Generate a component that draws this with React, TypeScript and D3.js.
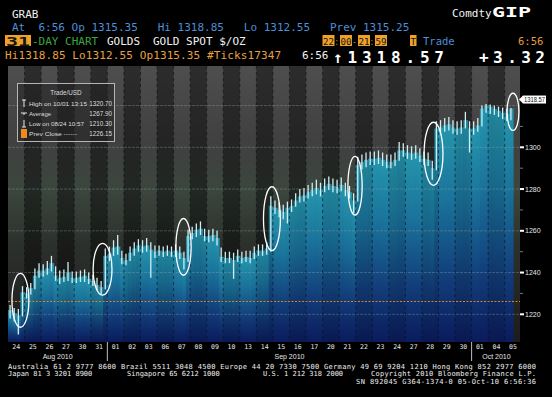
import React from 'react';
import * as d3 from 'd3';

const W = 552;
const H = 397;

// Trading days (31-day chart)
const dayLabels = ['24','25','26','27','30','31','01','02','03','06','07','08','09','10','13','14','15','16','17','20','21','22','23','24','27','28','29','30','01','04','05'];
const monthLabels = [
  { label: 'Aug 2010', from: 0, to: 6 },
  { label: 'Sep 2010', from: 6, to: 28 },
  { label: 'Oct 2010', from: 28, to: 31 },
];
const monthBreaks = [6, 28];
const yTicks = [1220, 1240, 1260, 1280, 1300];
const yGrid = [1220, 1240, 1260, 1280, 1300, 1320];
const yMinor = [1230, 1250, 1270, 1290, 1310];

// Intraday bars per day (4 per day; last day partial)
const closesByDay: number[][] = [
  [1222.0, 1220.5, 1219.5, 1230.5],
  [1230.0, 1232.5, 1238.5, 1241.0],
  [1241.0, 1242.0, 1244.5, 1238.5],
  [1237.5, 1238.0, 1240.0, 1237.5],
  [1237.5, 1238.0, 1238.5, 1237.0],
  [1236.0, 1234.0, 1233.0, 1248.0],
  [1249.0, 1252.0, 1252.5, 1247.0],
  [1246.0, 1249.5, 1251.5, 1253.0],
  [1252.5, 1253.0, 1251.0, 1250.0],
  [1250.5, 1250.0, 1250.5, 1250.0],
  [1250.5, 1249.5, 1247.0, 1257.5],
  [1259.0, 1260.5, 1261.0, 1257.5],
  [1257.5, 1258.0, 1256.5, 1247.5],
  [1247.0, 1247.0, 1246.0, 1248.0],
  [1247.0, 1247.5, 1247.0, 1249.5],
  [1250.5, 1250.5, 1251.5, 1272.0],
  [1271.0, 1270.0, 1269.0, 1271.0],
  [1272.0, 1274.5, 1276.5, 1277.0],
  [1278.5, 1279.5, 1280.5, 1279.5],
  [1281.5, 1282.5, 1281.5, 1281.0],
  [1282.0, 1279.5, 1278.5, 1274.5],
  [1291.5, 1293.0, 1294.0, 1294.5],
  [1294.5, 1295.0, 1294.0, 1293.0],
  [1293.0, 1294.0, 1298.5, 1298.5],
  [1297.5, 1297.0, 1297.5, 1296.0],
  [1294.5, 1294.0, 1290.0, 1309.0],
  [1309.5, 1310.5, 1311.0, 1309.5],
  [1309.0, 1309.5, 1313.0, 1309.0],
  [1309.0, 1310.5, 1318.5, 1320.0],
  [1319.5, 1318.5, 1317.5, 1316.5],
  [1316.0, 1318.57],
];
const highsByDay: number[][] = [
  [1224.5, 1223.0, 1222.5, 1233.5],
  [1233.0, 1235.0, 1242.0, 1244.5],
  [1244.0, 1245.5, 1248.0, 1243.0],
  [1241.0, 1241.5, 1245.0, 1240.5],
  [1240.5, 1241.0, 1241.5, 1240.0],
  [1239.0, 1237.5, 1236.0, 1251.5],
  [1252.5, 1255.5, 1258.0, 1250.5],
  [1249.0, 1252.5, 1254.5, 1256.0],
  [1255.5, 1256.5, 1254.5, 1253.0],
  [1253.0, 1252.5, 1253.0, 1252.5],
  [1253.5, 1252.5, 1250.0, 1260.5],
  [1262.0, 1263.5, 1264.5, 1261.0],
  [1260.5, 1261.0, 1260.0, 1252.0],
  [1250.0, 1250.0, 1249.5, 1251.0],
  [1250.0, 1250.5, 1250.5, 1252.5],
  [1253.5, 1253.5, 1254.5, 1276.5],
  [1274.5, 1273.5, 1272.5, 1274.0],
  [1275.0, 1278.0, 1280.0, 1280.5],
  [1282.0, 1283.0, 1284.5, 1283.0],
  [1285.0, 1286.0, 1285.0, 1284.5],
  [1285.5, 1283.0, 1281.5, 1278.0],
  [1295.5, 1296.5, 1297.5, 1298.0],
  [1298.0, 1298.5, 1297.5, 1296.5],
  [1296.5, 1297.5, 1302.5, 1302.0],
  [1301.0, 1300.5, 1301.0, 1299.5],
  [1298.0, 1297.5, 1293.5, 1312.5],
  [1313.0, 1314.0, 1314.5, 1313.0],
  [1312.5, 1313.0, 1317.0, 1312.5],
  [1312.5, 1314.0, 1320.0, 1320.7],
  [1320.5, 1320.0, 1319.5, 1319.0],
  [1318.5, 1318.85],
];
const lowsByDay: number[][] = [
  [1218.0, 1216.5, 1210.3, 1219.0],
  [1227.5, 1229.5, 1232.0, 1237.5],
  [1238.0, 1239.0, 1240.5, 1236.0],
  [1234.5, 1235.5, 1236.0, 1235.0],
  [1235.0, 1235.5, 1235.5, 1234.5],
  [1233.5, 1231.5, 1229.5, 1232.0],
  [1245.5, 1248.0, 1248.5, 1244.0],
  [1243.5, 1245.5, 1248.0, 1250.0],
  [1249.5, 1250.0, 1237.5, 1247.0],
  [1248.0, 1247.5, 1248.0, 1247.5],
  [1247.5, 1246.5, 1241.5, 1245.0],
  [1256.0, 1257.0, 1258.0, 1255.0],
  [1254.5, 1255.0, 1253.0, 1245.0],
  [1244.5, 1244.5, 1237.0, 1245.0],
  [1244.5, 1245.0, 1244.5, 1246.5],
  [1248.0, 1248.0, 1248.5, 1250.0],
  [1268.0, 1266.5, 1265.5, 1263.5],
  [1269.0, 1271.5, 1273.5, 1274.0],
  [1275.5, 1276.5, 1277.5, 1276.5],
  [1278.5, 1279.5, 1278.5, 1278.0],
  [1279.0, 1276.5, 1275.5, 1268.5],
  [1274.0, 1289.5, 1290.5, 1291.5],
  [1291.5, 1292.0, 1291.0, 1290.0],
  [1290.0, 1291.0, 1293.5, 1295.5],
  [1294.5, 1294.0, 1294.5, 1293.0],
  [1291.5, 1291.0, 1284.5, 1289.0],
  [1306.5, 1307.5, 1308.0, 1306.5],
  [1306.0, 1306.5, 1309.0, 1297.5],
  [1306.0, 1307.5, 1310.0, 1316.5],
  [1316.0, 1315.5, 1314.5, 1313.5],
  [1312.55, 1313.0],
];

const prevClose = 1226.15;
const lastPrice = 1318.57;

// hand-drawn ellipse annotations: [day position, centre price, half price span]
const ellipseDays = [0.75, 5.71, 10.6, 15.94, 20.96, 25.7, 30.5];
const ellipsePrices = [1226.7, 1241.6, 1252.3, 1265.8, 1281.6, 1296.9, 1317.0];
const ellipseSpans = [12.9, 12.4, 13.6, 15.3, 14.1, 15.1, 8.9];
const ellipseWidths = [0.51, 0.57, 0.46, 0.51, 0.43, 0.57, 0.36];

const legendLabels = ['High on 10/01 13:15', 'Average', 'Low on 08/24 10:57', 'Prev Close ------'];
const legendValues = ['1320.70', '1267.90', '1210.30', '1226.15'];
const legendIcons = ['high', 'avg', 'low', 'prev'];
const legendLabelWidths = [58, 22, 55, 48];

const timeParts = [
  { t: '22', box: true, x0: 323, w: 11 },
  { t: ':', box: false, x0: 335, w: 3.5 },
  { t: '00', box: true, x0: 340.5, w: 11 },
  { t: '-', box: false, x0: 352.5, w: 4 },
  { t: '21', box: true, x0: 358.5, w: 11 },
  { t: ':', box: false, x0: 370, w: 3.5 },
  { t: '59', box: true, x0: 375.5, w: 11 },
];

const footer1 = 'Australia 61 2 9777 8600 Brazil 5511 3048 4500 Europe 44 20 7330 7500 Germany 49 69 9204 1210 Hong Kong 852 2977 6000';

const MONO = '"DejaVu Sans Mono", "Liberation Mono", monospace';
const SANS = '"Liberation Sans", "DejaVu Sans", sans-serif';

export default function App() {
  const left = 8, right = 520, top = 66, bottom = 342;
  const x = d3.scaleLinear().domain([0, 31]).range([left, left + 31 * 16.557]);
  const y = d3.scaleLinear().domain([1220, 1300]).range([314.3, 147.3]);

  const bars = closesByDay.flatMap((cs, d) =>
    cs.map((c, j) => ({
      t0: d + j / 4,
      t: d + (j + 0.5) / 4,
      t1: d + (j + 1) / 4,
      c,
      h: highsByDay[d][j],
      l: lowsByDay[d][j],
    }))
  );

  const days = d3.range(31);
  const orange = '#f0a12a';
  const blue = '#4d8fd8';
  const labelY = y(lastPrice) - 9;

  const pre = { whiteSpace: 'pre' as const };

  return (
    <svg width={W} height={H} style={{ position: 'absolute', left: 0, top: 0, background: '#000' }} xmlSpace="preserve">
      <defs>
        <linearGradient id="bgGrad" x1="0" y1={top} x2="0" y2={bottom} gradientUnits="userSpaceOnUse">
          <stop offset="0" stopColor="#4e4e4e" />
          <stop offset="0.28" stopColor="#404040" />
          <stop offset="0.45" stopColor="#3b463d" />
          <stop offset="0.65" stopColor="#2c302c" />
          <stop offset="1" stopColor="#1c1c1c" />
        </linearGradient>
        <linearGradient id="colGrad" x1="0" y1="0" x2="0" y2="1">
          <stop offset="0" stopColor="#2596ad" />
          <stop offset="0.35" stopColor="#1a729a" />
          <stop offset="0.7" stopColor="#123e7a" />
          <stop offset="1" stopColor="#0b1b5c" />
        </linearGradient>
        <clipPath id="plotClip">
          <rect x={left} y={top} width={right - left} height={bottom - top} />
        </clipPath>
      </defs>

      <rect x={0} y={0} width={W} height={H} fill="#000" />

      {/* Header */}
      <g fontFamily={MONO} fontSize={11} style={pre}>
        <text x={12} y={18} fill="#f2f2f2">GRAB</text>
        <text x={452} y={17} fill="#f2f2f2">Comdty</text>
        <text x={492} y={17} fill="#ffffff" fontWeight="bold" fontSize={14} textLength={39} lengthAdjust="spacingAndGlyphs">GIP</text>

        <text x={12} y={31} fill={blue} style={pre}>{'At  6:56 Op 1315.35   Hi 1318.85   Lo 1312.55   Prev 1315.25'}</text>

        <rect x={5} y={35} width={26} height={11} fill={orange} />
        <text x={6} y={45.5} fill="#151515" fontWeight="bold" fontSize={13} textLength={24} lengthAdjust="spacingAndGlyphs">31</text>
        <text x={32} y={45} fill="#3ea53e">-DAY CHART</text>
        <text x={107} y={45} fill="#f2f2f2">GOLDS</text>
        <text x={153} y={45} fill="#f2f2f2" style={pre}>GOLD SPOT $/OZ</text>

        {timeParts.map((p) => (
          <g key={p.x0}>
            {p.box && <rect x={p.x0 - 0.5} y={35} width={p.w + 1} height={11} fill={orange} />}
            <text x={p.x0} y={44.5} fontSize={9} fill={p.box ? '#151515' : orange} textLength={p.w} lengthAdjust="spacingAndGlyphs">{p.t}</text>
          </g>
        ))}
        <rect x={410} y={35} width={6.5} height={11} fill={orange} />
        <text x={410.5} y={44.5} fontSize={9} fill="#151515" textLength={5.5} lengthAdjust="spacingAndGlyphs">T</text>
        <text x={423} y={44.5} fill={blue} fontSize={10.5}>Trade</text>
        <text x={518} y={44.5} fill="#e39a45" fontSize={10.5}>6:56</text>

        <text x={5} y={59} fill="#e8a043" textLength={276} lengthAdjust="spacing">Hi1318.85 Lo1312.55 Op1315.35 #Ticks17347</text>
        <text x={302} y={59} fill="#f2f2f2">6:56</text>
        <text x={333} y={62.5} fill="#ffffff" fontWeight="bold" fontSize={16} textLength={111} lengthAdjust="spacing">↑1318.57</text>
        <text x={479} y={62.5} fill="#ffffff" fontWeight="bold" fontSize={16} textLength={66} lengthAdjust="spacing">+3.32</text>
      </g>

      {/* Plot background */}
      <g clipPath="url(#plotClip)">
        <rect x={left} y={top} width={right - left} height={bottom - top} fill="url(#bgGrad)" />
        {days.map((d) =>
          d % 2 === 1 ? (
            <rect key={'bgc' + d} x={x(d)} y={top} width={x(d + 1) - x(d)} height={bottom - top} fill="#000" opacity={0.36} />
          ) : null
        )}

        {/* Area columns */}
        {bars.map((b, i) => (
          <rect
            key={'col' + i}
            x={x(b.t0)}
            y={y(b.c)}
            width={x(b.t1) - x(b.t0) + 0.6}
            height={bottom - y(b.c)}
            fill="url(#colGrad)"
          />
        ))}
        {days.map((d) =>
          d % 2 === 1 ? (
            <rect key={'ac' + d} x={x(d)} y={top} width={x(d + 1) - x(d)} height={bottom - top} fill="#000" opacity={0.1} />
          ) : null
        )}

        {/* horizontal grid */}
        {yGrid.map((v) => (
          <line key={'hg' + v} x1={left} x2={right} y1={y(v)} y2={y(v)} stroke="#9aa6a8" strokeOpacity={0.35} strokeWidth={1} strokeDasharray="3,1" />
        ))}
        {/* vertical day separators */}
        {days.slice(1).map((d) => (
          <line key={'vg' + d} x1={x(d)} x2={x(d)} y1={top} y2={bottom} stroke="#0a0f1e" strokeOpacity={0.6} strokeWidth={1} strokeDasharray="3,3" />
        ))}

        {/* prev close */}
        <line x1={left} x2={right} y1={y(prevClose)} y2={y(prevClose)} stroke="#e0822a" strokeWidth={1} strokeDasharray="2,1.5" />

        {/* high-low bars */}
        {bars.map((b, i) => (
          <line key={'bar' + i} x1={x(b.t)} x2={x(b.t)} y1={y(b.h)} y2={y(b.l)} stroke="#cdeef4" strokeWidth={1.3} />
        ))}

        {/* annotations */}
        {ellipseDays.map((t, i) => (
          <ellipse
            key={'el' + i}
            cx={x(t)}
            cy={y(ellipsePrices[i])}
            rx={x(t + ellipseWidths[i]) - x(t)}
            ry={y(ellipsePrices[i] - ellipseSpans[i]) - y(ellipsePrices[i])}
            fill="none"
            stroke="#ffffff"
            strokeWidth={1.3}
          />
        ))}
      </g>

      {/* Legend box */}
      <g fontFamily={SANS} fontSize={5.8} fill="#dcdcdc">
        <rect x={17.5} y={83.5} width={97} height={58} fill="#222" fillOpacity={0.55} stroke="#b5b5b5" strokeWidth={1} />
        <text x={66} y={95} textAnchor="middle" fontSize={6.3}>Trade/USD</text>
        {legendLabels.map((lab, i) => {
          const ly = 106 + i * 10;
          const icon = legendIcons[i];
          return (
            <g key={lab}>
              {icon === 'high' && (
                <g stroke="#e8e8e8" strokeWidth={1}>
                  <line x1={22} x2={26} y1={ly - 6} y2={ly - 6} />
                  <line x1={24} x2={24} y1={ly - 6} y2={ly + 1} />
                </g>
              )}
              {icon === 'avg' && (
                <g stroke="#e8e8e8" strokeWidth={1}>
                  <line x1={21} x2={27} y1={ly - 3} y2={ly - 3} />
                  <line x1={24} x2={24} y1={ly - 3} y2={ly - 1} />
                </g>
              )}
              {icon === 'low' && (
                <g stroke="#e8e8e8" strokeWidth={1}>
                  <line x1={24} x2={24} y1={ly - 6} y2={ly + 1} />
                  <line x1={22} x2={26} y1={ly + 1} y2={ly + 1} />
                </g>
              )}
              {icon === 'prev' && <rect x={21} y={ly - 7} width={6} height={9} fill="#f08a1e" />}
              <text x={29} y={ly} style={pre} textLength={legendLabelWidths[i]} lengthAdjust="spacingAndGlyphs">{lab}</text>
              <text x={112} y={ly} textAnchor="end" fontSize={6.3}>{legendValues[i]}</text>
            </g>
          );
        })}
      </g>

      {/* Right axis */}
      {yMinor.map((v) => (
        <line key={'mn' + v} x1={right} x2={right + 3} y1={y(v)} y2={y(v)} stroke="#777" strokeWidth={1} />
      ))}
      <g fontFamily={SANS} fontSize={7} fill="#e6e6e6">
        {yTicks.map((v) => (
          <g key={'yt' + v}>
            <rect x={right} y={y(v) - 1} width={4} height={2} fill="#ffffff" />
            <text x={525} y={y(v) + 2.5}>{v}</text>
          </g>
        ))}
      </g>
      <g>
        <path d={`M${right - 1},${labelY} L${right + 3},${labelY - 4} L${right + 3},${labelY + 4} Z`} fill="#ffffff" />
        <rect x={right + 3} y={labelY - 4} width={23} height={8} fill="#ffffff" />
        <text x={right + 4} y={labelY + 2.6} fontFamily={SANS} fontSize={6.8} fill="#111" textLength={21} lengthAdjust="spacingAndGlyphs">{lastPrice.toFixed(2)}</text>
      </g>

      {/* Bottom axis */}
      <g fontFamily={MONO} fontSize={6.5} fill="#e6e6e6">
        {dayLabels.map((lab, i) => (
          <text key={'dl' + i} x={x(i + 0.5)} y={348.5} textAnchor="middle">{lab}</text>
        ))}
        {monthLabels.map((m) => (
          <text key={m.label} x={x((m.from + m.to) / 2)} y={358.5} textAnchor="middle" fontFamily={SANS} fontSize={7}>{m.label}</text>
        ))}
        {monthBreaks.map((b) => (
          <line key={'mb' + b} x1={x(b)} x2={x(b)} y1={bottom} y2={361} stroke="#bdbdbd" strokeWidth={1} />
        ))}
      </g>

      {/* Footer */}
      <g fontFamily={MONO} fontSize={7} fill="#f0f0f0" style={pre}>
        <text x={8} y={369} textLength={528} lengthAdjust="spacing">{footer1}</text>
        <text x={8} y={375.5}>Japan 81 3 3201 8900</text>
        <text x={127} y={375.5}>Singapore 65 6212 1000</text>
        <text x={263} y={375.5}>U.S. 1 212 318 2000</text>
        <text x={371} y={375.5} textLength={165} lengthAdjust="spacing">Copyright 2010 Bloomberg Finance L.P.</text>
        <text x={356} y={384} textLength={180} lengthAdjust="spacing">{'SN 892045 G364-1374-0 05-Oct-10  6:56:36'}</text>
      </g>
    </svg>
  );
}
